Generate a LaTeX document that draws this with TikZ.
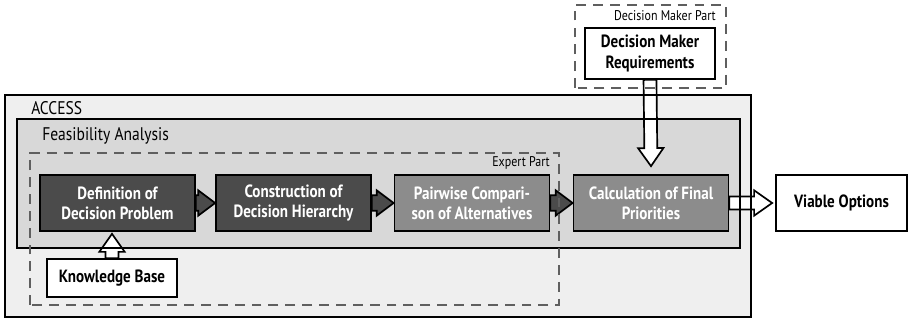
\documentclass[tikz,border=0pt]{standalone}
\usepackage{fontspec}
\setmainfont{PT Sans}[FakeStretch=0.85]
\usepackage{tikz}
\usetikzlibrary{positioning,calc,backgrounds}
\definecolor{AccessGray}{RGB}{239,239,239}
\definecolor{FeasGray}{RGB}{216,216,216}
\definecolor{StageDark}{RGB}{75,75,75}
\definecolor{StageMid}{RGB}{140,140,140}
\definecolor{PartGray}{RGB}{95,95,95}

\begin{document}
\begin{tikzpicture}[
  x=0.025cm, y=0.025cm,
  stage/.style={draw,line width=1.2pt,minimum width=3.875cm,
                minimum height=1.4cm,align=center,text=white,
                font=\fontsize{12.6}{14.4}\selectfont\bfseries,inner sep=2pt},
  ext/.style={draw,line width=1.2pt,fill=white,align=center,
              font=\fontsize{12.6}{14.4}\selectfont\bfseries,inner sep=2pt},
  lbl/.style={font=\fontsize{13}{15}\selectfont,inner sep=0pt},
  partlbl/.style={font=\fontsize{10}{12}\selectfont,inner sep=0pt},
  part/.style={draw=PartGray,line width=1pt,dash pattern=on 7pt off 5pt},
  fatarrow/.style n args={3}{to path={
      ($(\tikztotarget)!#3!(\tikztostart)$) coordinate (fa-h)
      ($(\tikztostart)!#1!90:(\tikztotarget)$)
      -- ($(fa-h)!#1!90:(\tikztotarget)$)
      -- ($(fa-h)!#2!90:(\tikztotarget)$)
      -- (\tikztotarget)
      -- ($(fa-h)!#2!-90:(\tikztotarget)$)
      -- ($(fa-h)!#1!-90:(\tikztotarget)$)
      -- ($(\tikztostart)!#1!-90:(\tikztotarget)$) -- cycle}},
  darkarrow/.style={fatarrow={5.5pt}{9pt}{12pt},draw,fill=StageDark,
                    line width=1.2pt,line join=miter},
  whitearrow/.style={fatarrow={4.6pt}{9pt}{12.8pt},draw,fill=white,
                     line width=1.2pt,line join=miter},
]
\useasboundingbox (0,0) rectangle (908,322);
% stages of the feasibility analysis
\node[stage,fill=StageDark] (def) at (117.5,119) {Definition of\\Decision Problem};
\node[stage,fill=StageDark] (hier) at (293.5,119) {Construction of\\Decision Hierarchy};
\node[stage,fill=StageMid] (pair) at (472,119) {Pairwise Compari-\\son of Alternatives};
\node[stage,fill=StageMid] (calc) at (651,119) {Calculation of Final\\Priorities};
% inputs and output
\node[ext,minimum width=3.275cm,minimum height=1.4cm] (viable) at (841.5,119) {Viable Options};
\node[ext,minimum width=3.25cm,minimum height=1.275cm] (dmr) at (650,268.5) {Decision Maker\\Requirements};
\node[ext,minimum width=3.25cm,minimum height=0.95cm] (kb) at (112,44) {Knowledge Base};
% frame labels
\node[lbl,anchor=west] (accesslbl) at (31,214) {ACCESS};
\node[lbl,anchor=west] (feaslbl) at (42,186) {Feasibility Analysis};
\node[partlbl,anchor=east] (expertlbl) at (550,159) {Expert Part};
\node[partlbl,anchor=east] (dmlbl) at (716,306) {Decision Maker Part};
% arrows
\coordinate (kbtip) at ($(kb.north |- def.south)+(0,-2)$);
\coordinate (dmrtip) at ($(calc.north)+(0,8)$);
\coordinate (viabletip) at ($(viable.west)+(-3,0)$);
\draw[darkarrow] (def.east) to (hier.west);
\draw[darkarrow] (hier.east) to (pair.west);
\draw[darkarrow] (pair.east) to (calc.west);
\draw[whitearrow] (kb.north) to (kbtip);
\draw[whitearrow] (dmr.south) to (dmrtip);
\draw[whitearrow] (calc.east) to (viabletip);
% frames: fills behind, outlines on top of the arrows
\begin{scope}[on background layer]
  \fill[AccessGray] (5,5) rectangle (751,227);
  \fill[FeasGray] (17,74) rectangle (740,203);
\end{scope}
\draw[line width=1.2pt] (5,5) rectangle (751,227);
\draw[line width=1.2pt] (17,74) rectangle (740,203);
\draw[part] (30,17) rectangle (559,169);
\draw[part] (575,234) rectangle (726,317);
\end{tikzpicture}
\end{document}
